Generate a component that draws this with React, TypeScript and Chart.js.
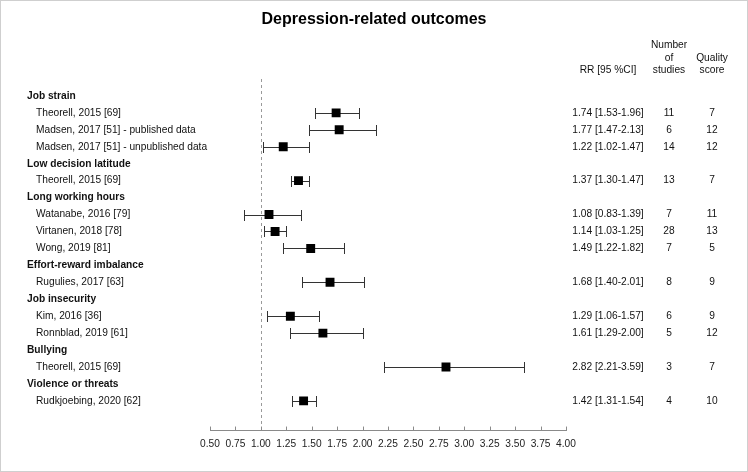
import React, { useEffect, useRef } from "react";
import { Chart, registerables } from "chart.js";

Chart.register(...registerables);

const chartTitle = "Depression-related outcomes";

const rowLabels = [
  "Job strain",
  "Theorell, 2015 [69]",
  "Madsen, 2017 [51] - published data",
  "Madsen, 2017 [51] - unpublished data",
  "Low decision latitude",
  "Theorell, 2015 [69]",
  "Long working hours",
  "Watanabe, 2016 [79]",
  "Virtanen, 2018 [78]",
  "Wong, 2019 [81]",
  "Effort-reward imbalance",
  "Rugulies, 2017 [63]",
  "Job insecurity",
  "Kim, 2016 [36]",
  "Ronnblad, 2019 [61]",
  "Bullying",
  "Theorell, 2015 [69]",
  "Violence or threats",
  "Rudkjoebing, 2020 [62]",
];

const isHeader = [
  true, false, false, false,
  true, false,
  true, false, false, false,
  true, false,
  true, false, false,
  true, false,
  true, false,
];

const rrValues = [null, 1.74, 1.77, 1.22, null, 1.37, null, 1.08, 1.14, 1.49, null, 1.68, null, 1.29, 1.61, null, 2.82, null, 1.42];
const ciLow = [null, 1.53, 1.47, 1.02, null, 1.3, null, 0.83, 1.03, 1.22, null, 1.4, null, 1.06, 1.29, null, 2.21, null, 1.31];
const ciHigh = [null, 1.96, 2.13, 1.47, null, 1.47, null, 1.39, 1.25, 1.82, null, 2.01, null, 1.57, 2.0, null, 3.59, null, 1.54];
const numStudies = [null, 11, 6, 14, null, 13, null, 7, 28, 7, null, 8, null, 6, 5, null, 3, null, 4];
const qualityScores = [null, 7, 12, 12, null, 7, null, 11, 13, 5, null, 9, null, 9, 12, null, 7, null, 10];

const xMin = 0.5;
const xMax = 4.0;
const xStep = 0.25;
const refLine = 1.0;

const FONT = "'Liberation Sans', Arial, Helvetica, sans-serif";
const FS = 10.2;

const forestPlugin = {
  id: "forest",
  beforeDraw(chart: any) {
    const ctx = chart.ctx;
    ctx.save();
    ctx.fillStyle = "#ffffff";
    ctx.fillRect(0, 0, chart.width, chart.height);
    ctx.strokeStyle = "#cfcfcf";
    ctx.lineWidth = 1;
    ctx.strokeRect(0.5, 0.5, chart.width - 1, chart.height - 1);
    ctx.restore();
  },
  beforeDatasetsDraw(chart: any) {
    const ctx = chart.ctx;
    const xs = chart.scales.x;
    const ys = chart.scales.y;
    const area = chart.chartArea;
    ctx.save();
    const rx = Math.round(xs.getPixelForValue(refLine)) + 0.5;
    ctx.strokeStyle = "#9a9a9a";
    ctx.lineWidth = 1;
    ctx.setLineDash([3, 3]);
    ctx.beginPath();
    ctx.moveTo(rx, area.top);
    ctx.lineTo(rx, area.bottom);
    ctx.stroke();
    ctx.setLineDash([]);
    ctx.strokeStyle = "#333333";
    for (let i = 0; i < rowLabels.length; i++) {
      const lo = ciLow[i];
      const hi = ciHigh[i];
      if (lo == null || hi == null) continue;
      const y = Math.round(ys.getPixelForValue(i)) + 0.5;
      const x1 = Math.round(xs.getPixelForValue(lo)) + 0.5;
      const x2 = Math.round(xs.getPixelForValue(hi)) + 0.5;
      ctx.beginPath();
      ctx.moveTo(x1, y);
      ctx.lineTo(x2, y);
      ctx.moveTo(x1, y - 5.5);
      ctx.lineTo(x1, y + 5.5);
      ctx.moveTo(x2, y - 5.5);
      ctx.lineTo(x2, y + 5.5);
      ctx.stroke();
    }
    ctx.restore();
  },
  afterDraw(chart: any) {
    const ctx = chart.ctx;
    const xs = chart.scales.x;
    const ys = chart.scales.y;
    const area = chart.chartArea;
    ctx.save();
    ctx.strokeStyle = "#8a8a8a";
    ctx.lineWidth = 1;
    ctx.beginPath();
    for (let v = xMin; v <= xMax + 1e-9; v += xStep) {
      const px = Math.round(xs.getPixelForValue(v)) + 0.5;
      ctx.moveTo(px, area.bottom);
      ctx.lineTo(px, area.bottom - 4);
    }
    ctx.stroke();

    ctx.fillStyle = "#000000";
    ctx.textAlign = "center";
    ctx.textBaseline = "middle";
    ctx.font = `bold 16px ${FONT}`;
    ctx.fillText(chartTitle, chart.width / 2, 20);

    ctx.font = `${FS}px ${FONT}`;
    ctx.fillStyle = "#111111";
    const colRR = 608;
    const colN = 669;
    const colQ = 712;
    ctx.fillText("RR [95 %CI]", colRR, ys.getPixelForValue(-1.5));
    ctx.fillText("Number", colN, ys.getPixelForValue(-3.0));
    ctx.fillText("of", colN, ys.getPixelForValue(-2.25));
    ctx.fillText("studies", colN, ys.getPixelForValue(-1.5));
    ctx.fillText("Quality", colQ, ys.getPixelForValue(-2.25));
    ctx.fillText("score", colQ, ys.getPixelForValue(-1.5));

    for (let i = 0; i < rowLabels.length; i++) {
      const y = ys.getPixelForValue(i);
      ctx.textAlign = "left";
      if (isHeader[i]) {
        ctx.font = `bold ${FS}px ${FONT}`;
        ctx.fillText(rowLabels[i], 27, y);
      } else {
        ctx.font = `${FS}px ${FONT}`;
        ctx.fillText(rowLabels[i], 36, y);
      }
      const rr = rrValues[i];
      if (rr != null) {
        ctx.font = `${FS}px ${FONT}`;
        ctx.textAlign = "center";
        ctx.fillText(
          `${rr.toFixed(2)} [${(ciLow[i] as number).toFixed(2)}-${(ciHigh[i] as number).toFixed(2)}]`,
          colRR,
          y
        );
        ctx.fillText(String(numStudies[i]), colN, y);
        ctx.fillText(String(qualityScores[i]), colQ, y);
      }
    }
    ctx.restore();
  },
};

export default function App() {
  const canvasRef = useRef<HTMLCanvasElement | null>(null);

  useEffect(() => {
    document.body.style.margin = "0";
    const canvas = canvasRef.current;
    if (!canvas) return;
    const points: { x: number; y: number }[] = [];
    rrValues.forEach((v, i) => {
      if (v != null) points.push({ x: v, y: i });
    });
    const chart = new Chart(canvas, {
      type: "scatter",
      data: {
        datasets: [
          {
            data: points,
            pointStyle: "rect",
            pointRadius: 6.3,
            pointHoverRadius: 6.3,
            backgroundColor: "#000000",
            borderColor: "#000000",
            borderWidth: 0,
          },
        ],
      },
      options: {
        animation: false,
        responsive: false,
        maintainAspectRatio: false,
        devicePixelRatio: 1,
        layout: { padding: { left: 210, right: 182, top: 79, bottom: 13.2 } },
        plugins: {
          legend: { display: false },
          title: { display: false },
          tooltip: { enabled: false },
        },
        scales: {
          x: {
            type: "linear",
            min: xMin,
            max: xMax,
            ticks: {
              stepSize: xStep,
              padding: 8,
              color: "#222222",
              font: { family: FONT, size: FS },
              maxRotation: 0,
              autoSkip: false,
              callback: (v: any) => Number(v).toFixed(2),
            },
            grid: { display: false, drawTicks: false },
            border: { display: true, color: "#8a8a8a", width: 1 },
          },
          y: {
            type: "linear",
            display: false,
            reverse: true,
            min: -1,
            max: 19.75,
          },
        },
      },
      plugins: [forestPlugin],
    });
    return () => chart.destroy();
  }, []);

  return (
    <div style={{ position: "absolute", left: 0, top: 0, width: 748, height: 472 }}>
      <canvas ref={canvasRef} width={748} height={472} style={{ display: "block" }} />
    </div>
  );
}
